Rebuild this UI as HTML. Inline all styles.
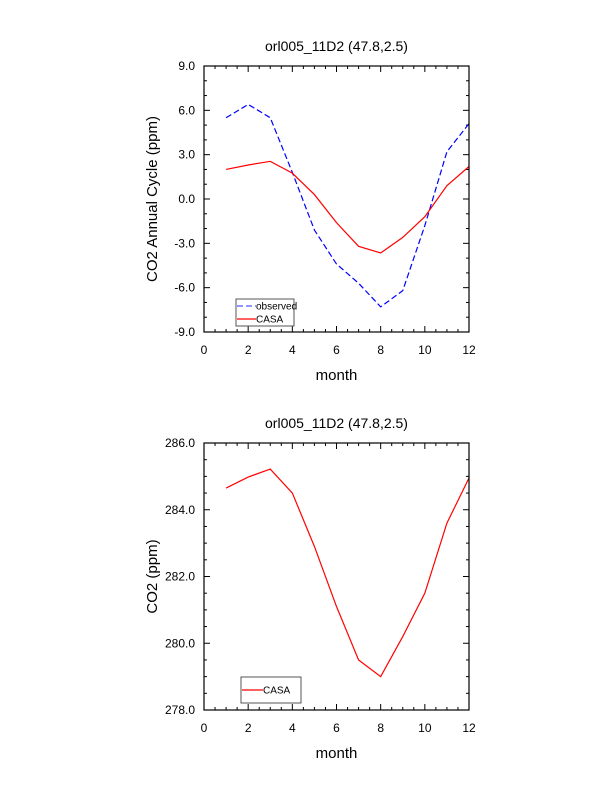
<!DOCTYPE html>
<html><head><meta charset="utf-8"><style>
body{margin:0;background:#fff;width:612px;height:792px;overflow:hidden}
svg text{font-family:"Liberation Sans",sans-serif;fill:#000}
</style></head><body>
<svg id="s" width="612" height="792"></svg>
<script>
const months=[1,2,3,4,5,6,7,8,9,10,11,12];
const observed=[5.5,6.4,5.5,1.8,-2.1,-4.4,-5.7,-7.3,-6.2,-1.8,3.2,5.1];
const casaCycle=[2.0,2.3,2.55,1.75,0.3,-1.6,-3.2,-3.65,-2.6,-1.2,0.9,2.2];
const casaCO2=[284.65,284.98,285.22,284.5,282.9,281.1,279.5,279.0,280.2,281.5,283.6,284.95];
const xTicks=[0,2,4,6,8,10,12];
const yTicksTop=[-9,-6,-3,0,3,6,9];
const yTicksBot=[278,280,282,284,286];
const NS='http://www.w3.org/2000/svg';
const svg=document.getElementById('s');
function el(t,a,p){const e=document.createElementNS(NS,t);for(const k in a)e.setAttribute(k,a[k]);(p||svg).appendChild(e);return e;}
function panel(name,top,bot,ymin,ymax,yt,ymstep,ylabel,series,legend){
  const L=204,R=469;
  const g=el('g',{});
  
  
  const X=v=>L+(v-0)/12*(R-L);
  const Y=v=>bot-(v-ymin)/(ymax-ymin)*(bot-top);
  const t=el('text',{x:(L+R)/2,y:top-15,'text-anchor':'middle','font-size':14},g);t.textContent='orl005_11D2 (47.8,2.5)';
  
  for(let v=0;v<=12.001;v+=0.5){const maj=Math.abs(v%2)<1e-6;const len=maj?6:3;
    el('line',{x1:X(v),x2:X(v),y1:bot,y2:bot-len,stroke:'#000'},g);
    el('line',{x1:X(v),x2:X(v),y1:top,y2:top+len,stroke:'#000'},g);}
  xTicks.forEach(v=>{const tx=el('text',{x:X(v),y:bot+22,'text-anchor':'middle','font-size':12},g);tx.textContent=v;
    });
  for(let v=ymin;v<=ymax+1e-6;v+=ymstep){const maj=yt.some(q=>Math.abs(q-v)<1e-6);const len=maj?6:3;
    el('line',{x1:L,x2:L+len,y1:Y(v),y2:Y(v),stroke:'#000'},g);
    el('line',{x1:R,x2:R-len,y1:Y(v),y2:Y(v),stroke:'#000'},g);}
  yt.forEach(v=>{const ty=el('text',{x:L-9,y:Y(v)+4,'text-anchor':'end','font-size':12},g);ty.textContent=v.toFixed(1);
    });
  const xl=el('text',{x:(L+R)/2,y:bot+48,'text-anchor':'middle','font-size':15},g);xl.textContent='month';
  
  const cy=(top+bot)/2;
  const yl=el('text',{x:157,y:cy,'text-anchor':'middle','font-size':15,transform:`rotate(-90 157 ${cy})`},g);yl.textContent=ylabel;
  
  series.forEach(s=>{const p=el('polyline',{points:months.map((m,i)=>X(m)+','+Y(s.v[i])).join(' '),fill:'none',stroke:s.c,'stroke-width':1.2,'stroke-dasharray':s.d||'none'},g);
    });
  el('rect',{x:L,y:top,width:R-L,height:bot-top,fill:'none',stroke:'#000','stroke-width':1.2},g);
  const lg=el('g',{},g);
  el('rect',{x:legend.x,y:legend.y,width:legend.w,height:legend.h,fill:'#fff',stroke:'#555'},lg);
  legend.items.forEach((it,i)=>{const yy=legend.y+legend.y0+i*13;
    el('line',{x1:legend.x+1,x2:legend.x+legend.lx,y1:yy,y2:yy,stroke:it.c,'stroke-width':1.2,'stroke-dasharray':it.d||'none'},lg);
    const tt=el('text',{x:legend.x+legend.lx,y:yy+3.5,'font-size':10},lg);tt.textContent=it.t;
    });
}
panel('top-chart',66,332,-9,9,yTicksTop,1,'CO2 Annual Cycle (ppm)',
 [{n:'observed-line',v:observed,c:'#00f',d:'6 3'},{n:'casa-line',v:casaCycle,c:'#f00'}],
 {x:236,y:299,w:58,h:27,lx:20,y0:7,items:[{t:'observed',c:'#55f',d:'6 3'},{t:'CASA',c:'#f00'}]});
panel('bottom-chart',443,710,278,286,yTicksBot,0.5,'CO2 (ppm)',
 [{n:'casa-co2-line',v:casaCO2,c:'#f00'}],
 {x:241,y:677,w:60,h:26,lx:22,y0:13,items:[{t:'CASA',c:'#f00'}]});
</script>
</body></html>
